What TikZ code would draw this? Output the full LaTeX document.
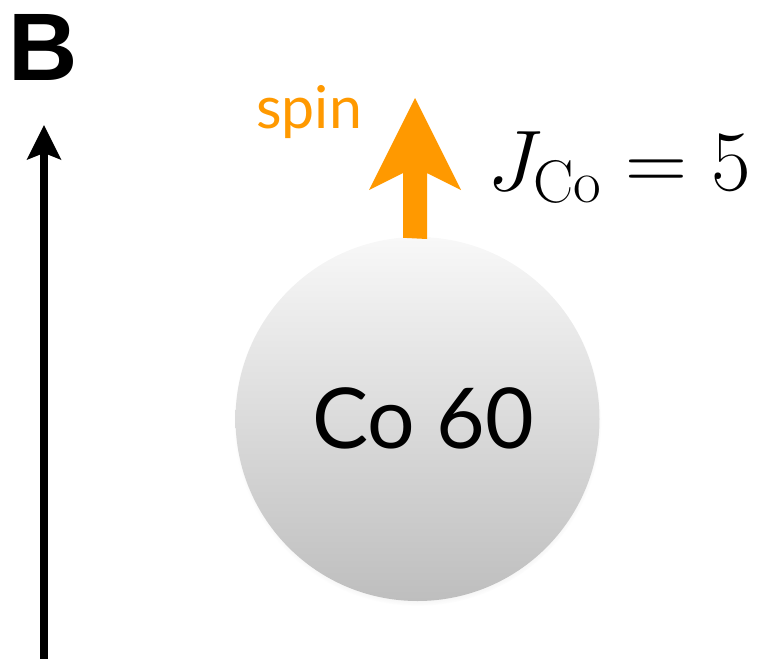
\RequirePackage{fix-cm}
\documentclass[tikz,border=0pt]{standalone}
\usepackage{fontspec}
\newfontfamily\lato{Lato}
\newfontfamily\heavy{Liberation Sans}[BoldFont={* Bold}]
\usetikzlibrary{shadows}
\definecolor{spinorange}{HTML}{FF9900}
\definecolor{balltop}{HTML}{F8F8F8}
\definecolor{ballbot}{HTML}{BEBEBE}
\tikzset{
  blackarrow/.style={fill=black},
  spinarrow/.style={fill=spinorange},
  ball/.style={circle, inner sep=0pt, minimum size=364pt,
    top color=balltop, bottom color=ballbot,
    circular drop shadow={shadow xshift=0pt, shadow yshift=-3pt, shadow scale=1.01, opacity=0.35}},
  txt/.style={inner sep=0pt, anchor=base west}
}
\begin{document}
\begin{tikzpicture}[x=1pt,y=-1pt]
\useasboundingbox (0,0) rectangle (769,659);
% panel label
\node[txt] (lab) at (8,80) {\heavy\bfseries\fontsize{96}{100}\selectfont B};
% vertical axis arrow
\coordinate (axbot) at (44,659);
\coordinate (axtop) at (44,125);
\draw[line width=8pt] (axbot) -- (44,152);
\fill[blackarrow] (axtop) -- (61.5,160) -- (44,153) -- (26.5,160) -- cycle;
% ball
\node[ball] (co) at (417.5,419) {};
\node[inner sep=0pt, anchor=base] (colab) at (423,448) {\lato\fontsize{84}{90}\selectfont Co 60};
% spin arrow
\coordinate (spintip) at (415,98);
\fill[spinarrow] (co.north -| 403,0) ++(0,1) -- (403,173) -- (369,190) -- (spintip) -- (461,190) -- (427,173) -- (427,239) -- cycle;
\node[txt, text=spinorange] (spin) at (256,128) {\lato\fontsize{59}{65}\selectfont spin};
\node[txt] (jco) at (487,190) {\fontsize{86}{90}\selectfont $J_{\mathrm{Co}} = 5$};
\end{tikzpicture}
\end{document}
